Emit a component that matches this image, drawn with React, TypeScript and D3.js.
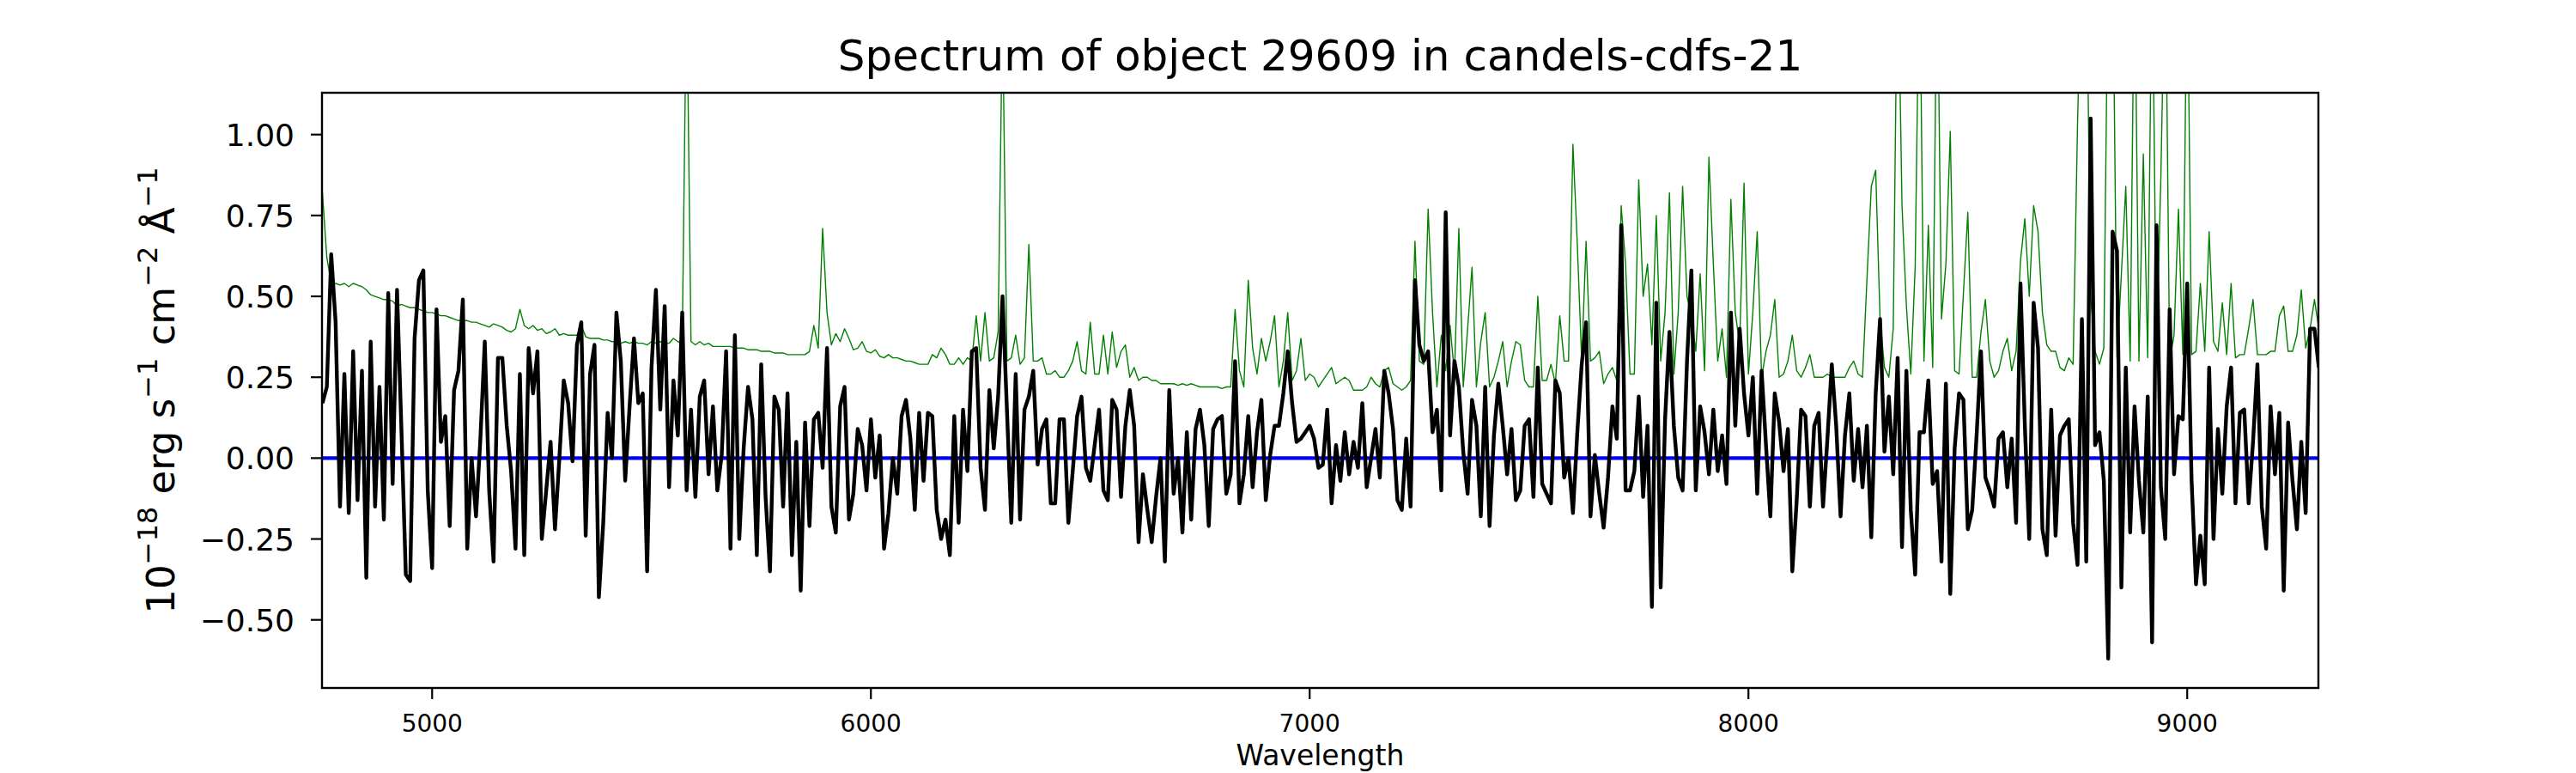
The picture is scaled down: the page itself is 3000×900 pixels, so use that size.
import React, { useEffect, useRef } from 'react';
import * as d3 from 'd3';

// wavelength grid (Angstrom), one sample every 10 A
const wavelength = d3.range(4750, 9301, 10);

// object flux (black)
const flux = [
    0.17, 0.22, 0.63, 0.42, -0.15, 0.26, -0.17, 0.33, -0.13, 0.27,
    -0.37, 0.36, -0.15, 0.22, -0.19, 0.51, -0.08, 0.52, 0.09, -0.36,
    -0.38, 0.37, 0.55, 0.58, -0.1, -0.34, 0.46, 0.05, 0.13, -0.21,
    0.21, 0.27, 0.49, -0.28, 0.0, -0.18, 0.06, 0.36, -0.1, -0.32,
    0.31, 0.31, 0.1, -0.04, -0.28, 0.26, -0.3, 0.34, 0.2, 0.33,
    -0.25, -0.1, 0.05, -0.22, 0.0, 0.24, 0.17, -0.01, 0.35, 0.42,
    -0.24, 0.26, 0.35, -0.43, -0.2, 0.14, 0.0, 0.45, 0.3, -0.07,
    0.16, 0.37, 0.17, 0.2, -0.35, 0.28, 0.52, 0.15, 0.47, -0.09,
    0.24, 0.07, 0.45, -0.1, 0.15, -0.12, 0.19, 0.24, -0.05, 0.16,
    -0.1,
    0.01, 0.33, -0.28, 0.38, -0.25, 0.03, 0.22, 0.12, -0.3,
    0.29, -0.12, -0.35, 0.19, 0.15, -0.15, 0.2, -0.3, 0.05, -0.41,
    0.11, -0.21, 0.12, 0.14, -0.03, 0.34, -0.15, -0.23, 0.16, 0.22,
    -0.19, -0.11, 0.09, 0.04, -0.1, 0.12, -0.06, 0.07, -0.28, -0.17,
    0.0, -0.11, 0.13, 0.18, 0.06, -0.16, 0.14, -0.07, 0.14, 0.13,
    -0.16, -0.25, -0.19, -0.3, 0.13, -0.2, 0.15, -0.04, 0.33, 0.34,
    -0.03, -0.16, 0.21, 0.03, 0.19, 0.5, 0.15, -0.2, 0.26, -0.19,
    0.15, 0.19, 0.27, -0.02, 0.09, 0.12, -0.14, -0.14, 0.12, 0.12,
    -0.2, -0.04, 0.13, 0.19, -0.03, -0.07, 0.04, 0.15, -0.1, -0.13,
    0.18, 0.15,
    -0.12, 0.1, 0.21, 0.1, -0.26, -0.05, -0.16, -0.26,
    -0.12, 0.0, -0.32, 0.21, -0.11, 0.0, -0.23, 0.08, -0.19, 0.09,
    0.15, 0.04, -0.21, 0.09, 0.12, 0.13, -0.11, -0.05, 0.3, -0.14,
    -0.05, 0.13, -0.09, 0.08, 0.18, -0.13, 0.01, 0.1, 0.1, 0.2,
    0.33, 0.17, 0.05, 0.06, 0.08, 0.1, 0.06, -0.03, -0.02, 0.15,
    -0.14, 0.04, -0.07, 0.08, -0.05, 0.05, -0.03, 0.17, -0.09, 0.0,
    0.09, -0.06, 0.27, 0.2, 0.09, -0.13, -0.16, 0.06, -0.15, 0.55,
    0.35, 0.3, 0.33, 0.08, 0.15, -0.1, 0.76, 0.07, 0.3, 0.22,
    0.02, -0.11, 0.18, 0.1, -0.18, 0.22, -0.21, 0.07, 0.23, 0.1,
    -0.05, 0.09, -0.13,
    -0.1, 0.1, 0.12, -0.12, 0.28, -0.08, -0.11,
    -0.14, 0.24, 0.2, -0.06, 0.0, -0.17, 0.08, 0.29, 0.42, -0.18,
    0.01, -0.11, -0.215, -0.06, 0.16, 0.06, 0.72, -0.1, -0.1, -0.04,
    0.19, -0.12, 0.1, -0.46, 0.48, -0.4, 0.12, 0.39, 0.1, -0.06,
    -0.1, 0.3, 0.58, -0.1, 0.16, 0.08, -0.05, 0.15, -0.04, 0.07,
    -0.08, 0.45, 0.1, 0.4, 0.2, 0.07, 0.25, -0.11, 0.27, 0.04,
    -0.18, 0.2, 0.11, -0.04, 0.09, -0.35, -0.13, 0.15, 0.13, -0.15,
    0.1, 0.14, -0.15, 0.06, 0.29, 0.1, -0.18, 0.07, 0.2, -0.07,
    0.09, -0.09, 0.1, -0.245, 0.2, 0.43, 0.02, 0.19, -0.05, 0.31,
    -0.275, 0.27, -0.16, -0.36,
    0.08, 0.08, 0.24, -0.08, -0.04, -0.32,
    0.23, -0.42, 0.03, 0.2, 0.18, -0.22, -0.16, 0.07, 0.33, -0.06,
    -0.1, -0.15, 0.06, 0.08, -0.09, 0.06, -0.2, 0.54, 0.1, -0.25,
    0.48, 0.34, -0.22, -0.3, 0.15, -0.24, 0.07, 0.1, 0.12, -0.2,
    -0.33, 0.43, -0.32, 1.05, 0.04, 0.08, -0.07, -0.62, 0.7, 0.64,
    -0.4, 0.28, -0.23, 0.16, -0.07, -0.23, 0.19, -0.57, 0.72, -0.09,
    -0.25, 0.46, -0.05, 0.13, 0.12, 0.54, -0.07, -0.39, -0.24, -0.39,
    0.28, -0.25, 0.09, -0.11, 0.16, 0.28, -0.14, 0.14, 0.15, -0.14,
    0.05, 0.29, -0.15, -0.28, 0.16, -0.05, 0.14, -0.41, 0.11, -0.07,
    -0.22, 0.05, -0.17, 0.4, 0.4, 0.28,
];

// sky / error spectrum (green)
const sky = [
    0.82, 0.62, 0.54, 0.54, 0.535, 0.54, 0.53, 0.54, 0.535, 0.53,
    0.52, 0.505, 0.5, 0.495, 0.49, 0.49, 0.485, 0.47, 0.475, 0.47,
    0.465, 0.465, 0.46, 0.455, 0.45, 0.45, 0.445, 0.44, 0.44, 0.435,
    0.43, 0.425, 0.425, 0.425, 0.42, 0.42, 0.415, 0.41, 0.405, 0.415,
    0.41, 0.405, 0.395, 0.39, 0.4, 0.46, 0.41, 0.4, 0.41, 0.395,
    0.4, 0.385, 0.39, 0.4, 0.38, 0.385, 0.38, 0.38, 0.38, 0.41,
    0.375, 0.37, 0.37, 0.37, 0.365, 0.365, 0.36, 0.36, 0.355, 0.36,
    0.355, 0.36, 0.355, 0.355, 0.35, 0.36, 0.355, 0.36, 0.355, 0.355,
    0.37, 0.36, 0.355, 1.5, 0.36, 0.35, 0.36, 0.35, 0.355, 0.345,
    0.345,
    0.345, 0.345, 0.345, 0.34, 0.34, 0.34, 0.335, 0.335, 0.335,
    0.33, 0.33, 0.33, 0.325, 0.325, 0.325, 0.32, 0.32, 0.32, 0.32,
    0.32, 0.33, 0.41, 0.34, 0.71, 0.45, 0.35, 0.385, 0.36, 0.4,
    0.37, 0.335, 0.34, 0.36, 0.33, 0.325, 0.335, 0.315, 0.31, 0.32,
    0.31, 0.31, 0.305, 0.3, 0.3, 0.295, 0.29, 0.29, 0.29, 0.32,
    0.31, 0.34, 0.32, 0.29, 0.29, 0.31, 0.29, 0.31, 0.3, 0.44,
    0.3, 0.45, 0.3, 0.31, 0.39, 1.4, 0.3, 0.31, 0.38, 0.29,
    0.31, 0.66, 0.3, 0.3, 0.31, 0.26, 0.26, 0.27, 0.25, 0.25,
    0.27, 0.3, 0.36, 0.27, 0.26, 0.42, 0.26, 0.26, 0.38, 0.26,
    0.39, 0.28,
    0.33, 0.35, 0.25, 0.28, 0.24, 0.25, 0.25, 0.24,
    0.24, 0.23, 0.23, 0.23, 0.23, 0.225, 0.23, 0.225, 0.23, 0.225,
    0.22, 0.22, 0.22, 0.22, 0.22, 0.215, 0.22, 0.22, 0.46, 0.27,
    0.22, 0.55, 0.34, 0.26, 0.37, 0.3, 0.36, 0.44, 0.22, 0.3,
    0.45, 0.24, 0.27, 0.37, 0.24, 0.26, 0.25, 0.22, 0.24, 0.26,
    0.28, 0.23, 0.24, 0.25, 0.24, 0.21, 0.21, 0.21, 0.22, 0.25,
    0.23, 0.22, 0.27, 0.28, 0.23, 0.22, 0.21, 0.22, 0.24, 0.67,
    0.3, 0.29, 0.77, 0.45, 0.22, 0.38, 0.27, 0.41, 0.26, 0.71,
    0.22, 0.4, 0.59, 0.22, 0.36, 0.45, 0.22, 0.25, 0.3, 0.36,
    0.22, 0.3, 0.36,
    0.35, 0.24, 0.22, 0.22, 0.5, 0.24, 0.24,
    0.29, 0.23, 0.44, 0.3, 0.3, 0.97, 0.66, 0.3, 0.67, 0.3,
    0.31, 0.33, 0.23, 0.26, 0.28, 0.24, 0.78, 0.6, 0.26, 0.26,
    0.86, 0.5, 0.6, 0.35, 0.75, 0.3, 0.45, 0.82, 0.26, 0.45,
    0.84, 0.5, 0.44, 0.33, 0.57, 0.27, 0.93, 0.6, 0.3, 0.4,
    0.25, 0.8, 0.45, 0.35, 0.85, 0.26, 0.45, 0.7, 0.25, 0.33,
    0.38, 0.49, 0.25, 0.26, 0.3, 0.38, 0.27, 0.25, 0.28, 0.32,
    0.25, 0.25, 0.25, 0.26, 0.25, 0.25, 0.25, 0.25, 0.28, 0.3,
    0.26, 0.25, 0.55, 0.84, 0.89, 0.43, 0.28, 0.25, 0.4, 1.6,
    0.78, 0.47, 0.26, 0.59,
    1.6, 0.3, 0.72, 0.28, 1.6, 0.43,
    0.6, 1.01, 0.27, 0.26, 0.51, 0.76, 0.25, 0.25, 0.39, 0.49,
    0.3, 0.25, 0.27, 0.33, 0.37, 0.27, 0.33, 0.61, 0.74, 0.5,
    0.78, 0.7, 0.45, 0.35, 0.33, 0.33, 0.28, 0.27, 0.31, 0.29,
    1.03, 1.6, 1.6, 0.5, 0.33, 0.29, 0.34, 1.6, 1.6, 0.31,
    0.57, 0.84, 0.3, 1.6, 0.3, 0.94, 0.31, 1.6, 0.33, 0.87,
    1.6, 0.3, 0.38, 0.77, 0.32, 1.6, 0.32, 0.33, 0.54, 0.33,
    0.7, 0.36, 0.33, 0.48, 0.32, 0.54, 0.31, 0.32, 0.32, 0.4,
    0.49, 0.32, 0.32, 0.32, 0.33, 0.33, 0.44, 0.47, 0.33, 0.33,
    0.38, 0.52, 0.34, 0.4, 0.49, 0.4,
];

const xTicks = [5000, 6000, 7000, 8000, 9000];
const yTicks = [-0.5, -0.25, 0, 0.25, 0.5, 0.75, 1.0];

const FONT = "'DejaVu Sans', sans-serif";

const App: React.FC = () => {
    const chartRef = useRef<SVGSVGElement>(null);

    useEffect(() => {
        const svg = d3.select(chartRef.current);
        svg.selectAll("*").remove();

        const width = 3000;
        const height = 900;
        const left = 375, right = 2700, top = 108, bottom = 801;

        const x = d3.scaleLinear().domain([4749, 9299]).range([left, right]);
        const y = d3.scaleLinear().domain([-0.7105, 1.1293]).range([bottom, top]);

        svg.append("rect")
            .attr("width", width).attr("height", height)
            .attr("fill", "white");

        svg.append("defs").append("clipPath").attr("id", "plot-clip")
            .append("rect")
            .attr("x", left).attr("y", top)
            .attr("width", right - left).attr("height", bottom - top);

        const plot = svg.append("g").attr("clip-path", "url(#plot-clip)");

        // zero level
        plot.append("line")
            .attr("x1", x(wavelength[0])).attr("x2", x(wavelength[wavelength.length - 1]))
            .attr("y1", y(0)).attr("y2", y(0))
            .attr("stroke", "#0000ff").attr("stroke-width", 4.2);

        const n = Math.min(wavelength.length, flux.length, sky.length);
        const line = d3.line<number>()
            .x((_, i) => x(wavelength[i]))
            .y(d => y(d));

        plot.append("path")
            .datum(sky.slice(0, n))
            .attr("d", line)
            .attr("fill", "none")
            .attr("stroke", "#008000")
            .attr("stroke-width", 1.4)
            .attr("stroke-linejoin", "round");

        plot.append("path")
            .datum(flux.slice(0, n))
            .attr("d", line)
            .attr("fill", "none")
            .attr("stroke", "#000000")
            .attr("stroke-width", 4.4)
            .attr("stroke-linejoin", "round");

        // frame
        svg.append("rect")
            .attr("x", left).attr("y", top)
            .attr("width", right - left).attr("height", bottom - top)
            .attr("fill", "none").attr("stroke", "black").attr("stroke-width", 2.4);

        // y ticks
        const fmt = d3.format(".2f");
        const yt = svg.append("g").selectAll("g").data(yTicks).enter().append("g");
        yt.append("line")
            .attr("x1", left - 13).attr("x2", left)
            .attr("y1", d => y(d)).attr("y2", d => y(d))
            .attr("stroke", "black").attr("stroke-width", 2.2);
        yt.append("text")
            .attr("x", left - 32).attr("y", d => y(d)).attr("dy", "0.36em")
            .attr("text-anchor", "end")
            .style("font-family", FONT).style("font-size", "36px")
            .text(d => fmt(d));

        // x ticks
        const xt = svg.append("g").selectAll("g").data(xTicks).enter().append("g");
        xt.append("line")
            .attr("x1", d => x(d)).attr("x2", d => x(d))
            .attr("y1", bottom).attr("y2", bottom + 13)
            .attr("stroke", "black").attr("stroke-width", 2.2);
        xt.append("text")
            .attr("x", d => x(d)).attr("y", 852)
            .attr("text-anchor", "middle")
            .style("font-family", FONT).style("font-size", "28px")
            .text(d => String(d));

        // labels
        svg.append("text")
            .attr("x", (left + right) / 2).attr("y", 891)
            .attr("text-anchor", "middle")
            .style("font-family", FONT).style("font-size", "33px")
            .text("Wavelength");

        svg.append("text")
            .attr("x", (left + right) / 2).attr("y", 82)
            .attr("text-anchor", "middle")
            .style("font-family", FONT).style("font-size", "50px")
            .text("Spectrum of object 29609 in candels-cdfs-21");

        const yl = svg.append("text")
            .attr("transform", `translate(203, ${(top + bottom) / 2}) rotate(-90)`)
            .attr("text-anchor", "middle")
            .style("font-family", FONT).style("font-size", "45px")
            .style("white-space", "pre");
        const parts: [string, string][] = [
            ["10", "\u221218"],
            [" erg s", "\u22121"],
            [" cm", "\u22122"],
            [" \u00c5", "\u22121"],
        ];
        parts.forEach(([base, sup], k) => {
            yl.append("tspan").attr("dy", k === 0 ? 0 : 20).text(base);
            yl.append("tspan").attr("dy", -20).style("font-size", "32px").text(sup);
        });
    }, []);

    return (
        <svg ref={chartRef} width={3000} height={900}
            style={{ position: "absolute", left: 0, top: 0, display: "block" }} />
    );
};

export default App;
